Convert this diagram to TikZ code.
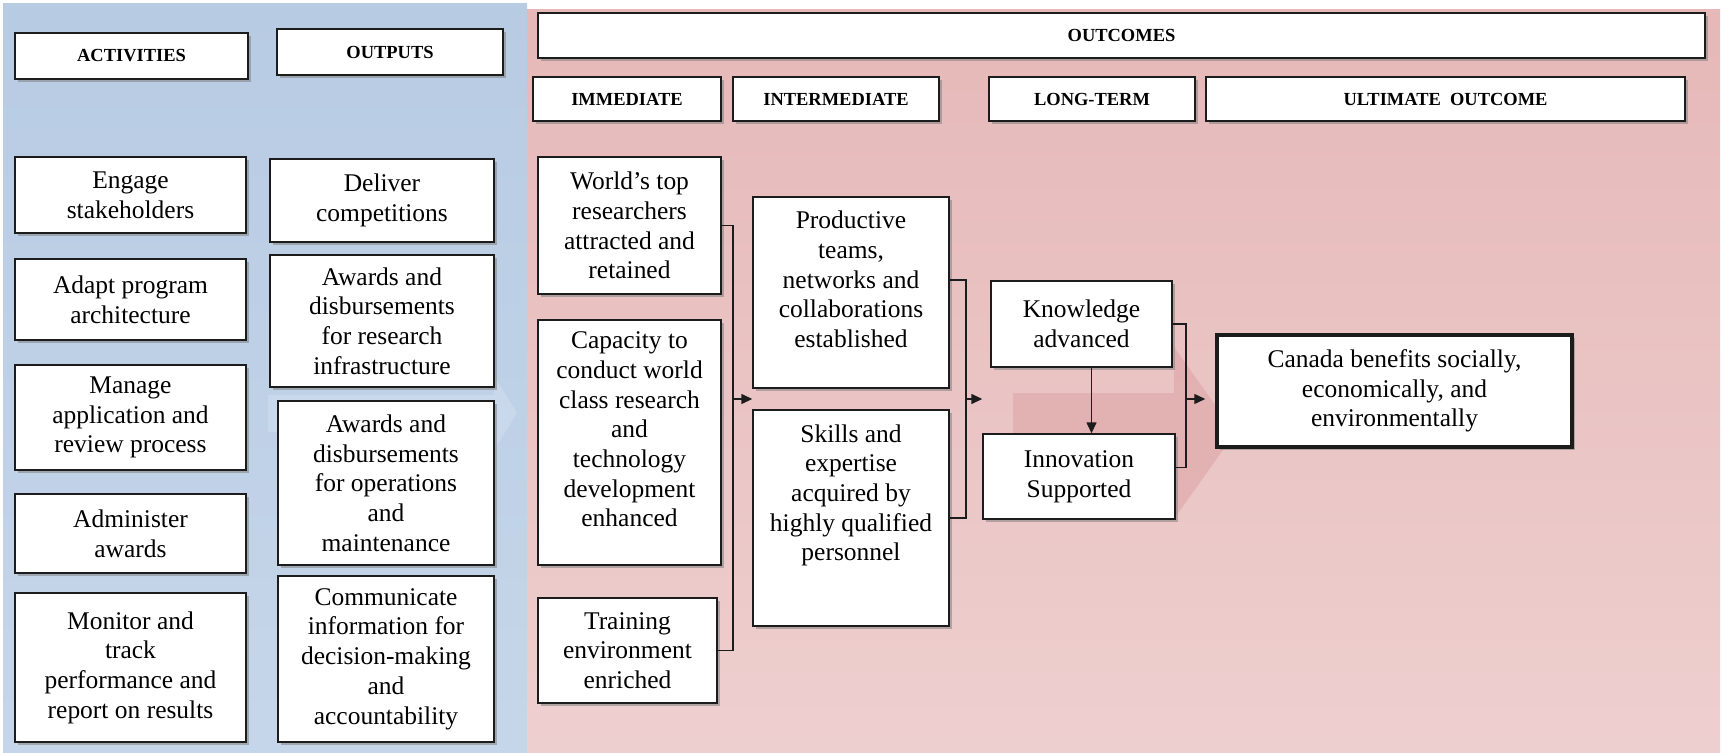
\documentclass[tikz,border=0pt]{standalone}
\usepackage{fontspec}
\setmainfont{Liberation Serif}
\usepackage{tikz}
\usetikzlibrary{arrows.meta,positioning,shadows,calc}
\definecolor{lmblue}{HTML}{B7CBE3}
\definecolor{lmbluelt}{HTML}{C6D6EA}
\definecolor{lmpink}{HTML}{E6B8B8}
\definecolor{lmpinklt}{HTML}{EECFCF}
\definecolor{lmpinkdk}{HTML}{D99A9D}
\definecolor{lmdark}{HTML}{1C1C1C}
\tikzset{
  hdrbox/.style={
    draw=lmdark, fill=white, line width=0.8pt,
    drop shadow={shadow xshift=1.6pt, shadow yshift=-1.6pt, opacity=.55},
    align=center, font=\fontsize{10.5}{12}\selectfont\bfseries, inner sep=2pt
  },
  cellbox/.style={
    draw=lmdark, fill=white, line width=0.8pt,
    drop shadow={shadow xshift=1.6pt, shadow yshift=-1.6pt, opacity=.55},
    align=center, font=\fontsize{14.5}{16.9}\selectfont, inner sep=2pt
  },
  goalbox/.style={cellbox, line width=2pt},
  bracketline/.style={draw=lmdark, line width=0.8pt},
  flowarr/.style={-{Triangle[length=2.2mm,width=2mm]}, draw=lmdark, line width=0.8pt}
}

\begin{document}
\begin{tikzpicture}[x=0.2mm, y=-0.2mm]
  \useasboundingbox (0,0) rectangle (1722,753);

  %% ---- backgrounds ----
  \shade[top color=lmblue, bottom color=lmbluelt] (3,4) rectangle (527,753);
  \shade[top color=lmpink, bottom color=lmpinklt] (527,10) rectangle (1720,753);
  \fill[lmbluelt!60!white, opacity=.35] (268,395) -- (494,395) -- (494,376)
    -- (517,413) -- (494,450) -- (494,432) -- (268,432) -- cycle;
  \fill[lmpinkdk, opacity=.45] (1013,393) -- (1174,393) -- (1174,347)
    -- (1235,433) -- (1174,519) -- (1174,473) -- (1013,473) -- cycle;

  %% ---- headers ----
  \node[hdrbox, minimum width=46.6mm, minimum height=9.2mm] (act_h) at (131.5,56) {ACTIVITIES};
  \node[hdrbox, minimum width=45.2mm, minimum height=9.2mm] (out_h) at (390,52) {OUTPUTS};
  \node[hdrbox, minimum width=233.4mm, minimum height=9mm] (oc_h) at (1121.5,35.5) {OUTCOMES};
  \node[hdrbox, minimum width=37.6mm, minimum height=8.8mm] (imm_h) at (627,99) {IMMEDIATE};
  \node[hdrbox, minimum width=41.2mm, minimum height=8.8mm] (int_h) at (836,99) {INTERMEDIATE};
  \node[hdrbox, minimum width=41.2mm, minimum height=8.8mm] (lt_h) at (1092,99) {LONG-TERM};
  \node[hdrbox, minimum width=95.8mm, minimum height=8.8mm] (ult_h) at (1445.5,99) {ULTIMATE\ \ OUTCOME};

  %% ---- Activities ----
  \node[cellbox, minimum width=46.2mm, minimum height=15.2mm] (a_eng) at (130.5,195)
    {Engage\\stakeholders};
  \node[cellbox, minimum width=46.2mm, minimum height=16.2mm] (a_adapt) at (130.5,299.5)
    {Adapt program\\architecture};
  \node[cellbox, minimum width=46.2mm, minimum height=21mm] (a_manage) at (130.5,417.5)
    {Manage\\application and\\review process};
  \node[cellbox, minimum width=46.2mm, minimum height=15.8mm] (a_admin) at (130.5,533.5)
    {Administer\\awards};
  \node[cellbox, minimum width=46.2mm, minimum height=29.8mm] (a_mon) at (130.5,667.5)
    {Monitor and\\track\\performance and\\report on results};

  %% ---- Outputs ----
  \node[cellbox, minimum width=44.8mm, minimum height=16.6mm] (o_deliv) at (382,200.5)
    {Deliver\\competitions};
  \node[cellbox, minimum width=44.8mm, minimum height=26.4mm] (o_infra) at (382,321)
    {Awards and\\disbursements\\for research\\infrastructure};
  \node[cellbox, minimum width=43.2mm, minimum height=32.8mm] (o_ops) at (386,483)
    {Awards and\\disbursements\\for operations\\and\\maintenance};
  \node[cellbox, minimum width=43.2mm, minimum height=33.2mm] (o_comm) at (386,659)
    {Communicate\\information for\\decision-making\\and\\accountability};

  %% ---- Immediate ----
  \node[cellbox, minimum width=36.6mm, minimum height=27.4mm] (i_world) at (629.5,225.5)
    {World’s top\\researchers\\attracted and\\retained};
  \node[cellbox, minimum width=36.6mm, minimum height=49mm] (i_cap) at (629.5,442.5)
    {Capacity to\\conduct world\\class research\\and\\technology\\development\\enhanced\\[-2pt]};
  \node[cellbox, minimum width=35.8mm, minimum height=21mm] (i_train) at (627.5,650.5)
    {Training\\environment\\enriched};

  %% ---- Intermediate ----
  \node[cellbox, minimum width=39.2mm, minimum height=38.2mm] (m_prod) at (851,292.5)
    {Productive\\teams,\\networks and\\collaborations\\established\\[-2pt]};
  \node[cellbox, minimum width=39.2mm, minimum height=43.2mm] (m_skill) at (851,518)
    {Skills and\\expertise\\acquired by\\highly qualified\\personnel\\[12pt]};

  %% ---- Long-term ----
  \node[cellbox, minimum width=36.2mm, minimum height=17.2mm] (l_know) at (1081.5,324)
    {Knowledge\\advanced};
  \node[cellbox, minimum width=38.4mm, minimum height=17mm] (l_innov) at (1079,476.5)
    {Innovation\\Supported};

  %% ---- Ultimate ----
  \node[goalbox, minimum width=71mm, minimum height=22.4mm] (u_canada) at (1394.5,391)
    {Canada benefits socially,\\economically, and\\environmentally};

  %% Connections
  \coordinate (imm_bar) at (733,399);
  \coordinate (int_bar) at (966,399);
  \coordinate (lt_bar) at (1186,399);

  \draw[bracketline] (i_world.east) -| (imm_bar) |- (i_train.east);
  \draw[flowarr] (imm_bar) -- (m_prod.west |- imm_bar);

  \draw[bracketline] ([yshift=2.5mm]m_prod.east) -| (int_bar) |- (m_skill.east);
  \draw[flowarr] (int_bar) -- (l_innov.west |- int_bar);

  \draw[bracketline] (l_know.east) -| (lt_bar) |- ([yshift=1.8mm]l_innov.east);
  \draw[flowarr, shorten >=2mm] (lt_bar) -- (u_canada.west |- lt_bar);

  \draw[flowarr] ([xshift=2mm]l_know.south) -- ([xshift=2mm]l_know.south |- l_innov.north);

\end{tikzpicture}
\end{document}
